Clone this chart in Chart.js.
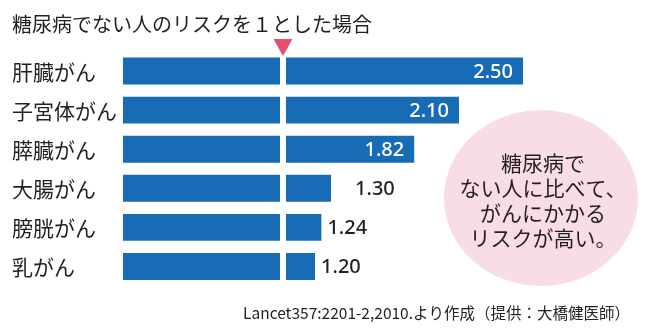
<!DOCTYPE html>
<html>
<head>
<meta charset="utf-8">
<script src="https://cdn.jsdelivr.net/npm/chart.js@4"></script>
<style>
  body { margin: 0; background: #fff; }
</style>
</head>
<body>
<canvas id="risk-chart" width="650" height="333"></canvas>
<script>
const categories = ["肝臓がん", "子宮体がん", "膵臓がん", "大腸がん", "膀胱がん", "乳がん"];
const riskValues = [2.5, 2.1, 1.82, 1.3, 1.24, 1.2];
const valueLabels = ["2.50", "2.10", "1.82", "1.30", "1.24", "1.20"];
const baseline = 1;

const titleText = "糖尿病でない人のリスクを１とした場合";
const noteLines = ["糖尿病で", "ない人に比べて、", "がんにかかる", "リスクが高い。"];
const sourceText = "Lancet357:2201-2,2010.より作成（提供：大橋健医師）";

const jp = '"Noto Sans CJK JP", sans-serif';
const textColor = "#231f20";
// extra room after short bars (1.30 sits further out in the original)
const outsideGap = [6, 6, 6, 24, 6, 6];

const decorations = {
  id: "decorations",
  beforeDatasetsDraw(chart) {
    const ctx = chart.ctx;
    ctx.save();
    // pink note bubble
    ctx.fillStyle = "#f8dce7";
    ctx.beginPath();
    ctx.ellipse(541, 198, 97, 88, 0, 0, Math.PI * 2);
    ctx.fill();
    ctx.fillStyle = textColor;
    ctx.font = "21px " + jp;
    ctx.textAlign = "center";
    ctx.textBaseline = "middle";
    noteLines.forEach((line, i) => ctx.fillText(line, 543, 163 + i * 25));
    ctx.restore();
  },
  afterDatasetsDraw(chart) {
    const ctx = chart.ctx;
    const x = chart.scales.x;
    const y = chart.scales.y;
    const area = chart.chartArea;
    const x1 = x.getPixelForValue(baseline);
    ctx.save();

    // white split at the baseline
    ctx.fillStyle = "#fff";
    ctx.fillRect(x1 - 3, area.top, 6, area.bottom - area.top);

    // marker triangle
    ctx.fillStyle = "#e5506b";
    ctx.beginPath();
    ctx.moveTo(x1 - 9.5, 39);
    ctx.lineTo(x1 + 9.5, 39);
    ctx.lineTo(x1, 56);
    ctx.closePath();
    ctx.fill();

    // title
    ctx.fillStyle = textColor;
    ctx.font = "20px " + jp;
    ctx.textAlign = "left";
    ctx.textBaseline = "middle";
    ctx.fillText(titleText, 12, 24);

    // category labels
    ctx.font = "21px " + jp;
    categories.forEach((c, i) => {
      ctx.fillText(c, 12, y.getPixelForValue(i) + 1);
    });

    // value labels
    ctx.font = '500 20px "Noto Sans", sans-serif';
    riskValues.forEach((v, i) => {
      const end = x.getPixelForValue(v);
      const cy = y.getPixelForValue(i) + 1;
      if (v > 1.5) {
        ctx.fillStyle = "#fff";
        ctx.textAlign = "right";
        ctx.fillText(valueLabels[i], end - 10, cy);
      } else {
        ctx.fillStyle = textColor;
        ctx.textAlign = "left";
        ctx.fillText(valueLabels[i], end + outsideGap[i], cy);
      }
    });

    // source
    ctx.fillStyle = textColor;
    ctx.font = "15.5px " + jp;
    ctx.textAlign = "right";
    ctx.fillText(sourceText, 630, 313);
    ctx.restore();
  },
};

const riskChart = new Chart(document.getElementById("risk-chart"), {
  type: "bar",
  data: {
    labels: categories,
    datasets: [
      {
        data: riskValues,
        backgroundColor: "#176cb5",
        borderWidth: 0,
        categoryPercentage: 1,
        barPercentage: 0.69,
      },
    ],
  },
  options: {
    indexAxis: "y",
    responsive: false,
    animation: false,
    layout: {
      padding: { left: 123, right: 47, top: 51.5, bottom: 47 },
    },
    scales: {
      x: { display: false, min: 0, max: 3 },
      y: { display: false },
    },
    plugins: {
      legend: { display: false },
      tooltip: { enabled: false },
    },
  },
  plugins: [decorations],
});
</script>
</body>
</html>
